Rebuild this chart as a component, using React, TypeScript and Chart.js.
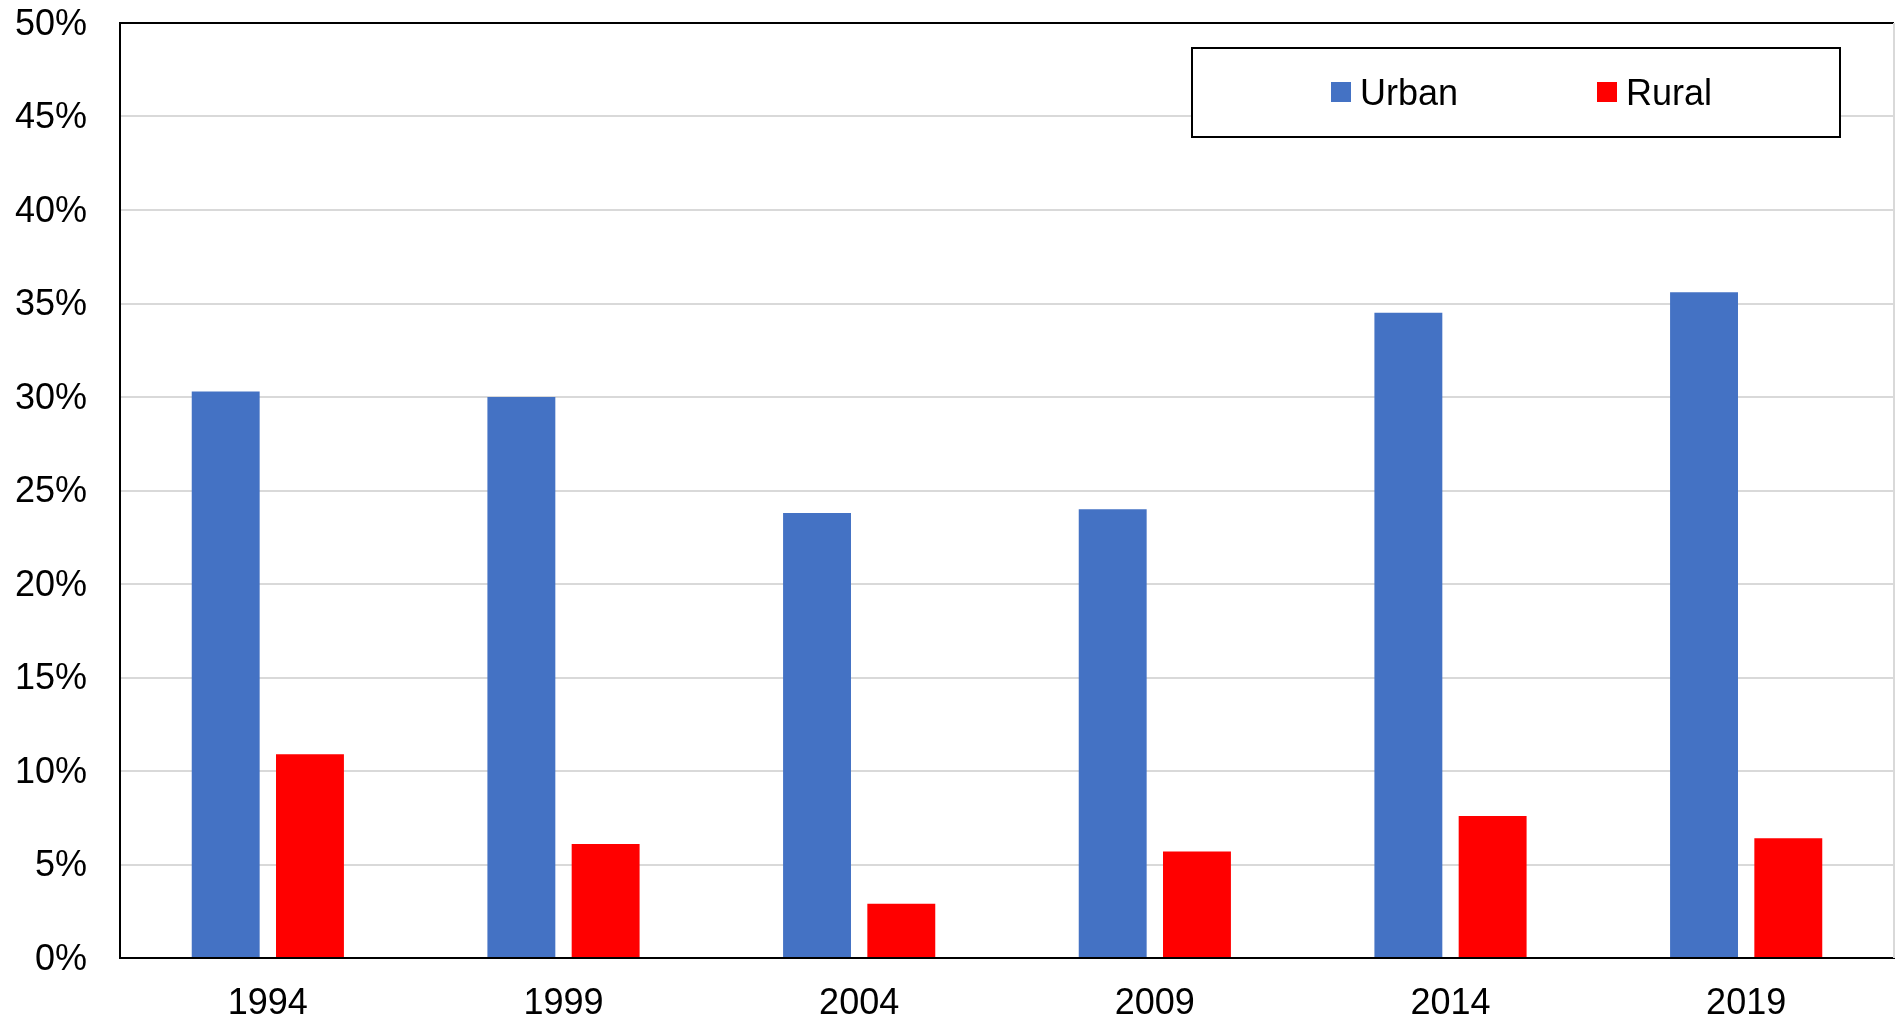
import React, { useEffect, useRef } from "react";
import { Chart, registerables } from "chart.js";

Chart.register(...registerables);

const years = ["1994", "1999", "2004", "2009", "2014", "2019"];
const urban = [30.3, 30.0, 23.8, 24.0, 34.5, 35.6];
const rural = [10.9, 6.1, 2.9, 5.7, 7.6, 6.4];
const seriesLabels = ["Urban", "Rural"];
const seriesColors = ["#4472C4", "#FF0000"];
const yMin = 0;
const yMax = 50;
const yStep = 5;

const FONT = '"Liberation Sans", Arial, sans-serif';

const boxLegend = {
  id: "boxLegend",
  afterDraw(chart: any) {
    const ctx = chart.ctx;
    const area = chart.chartArea;
    ctx.save();
    // faint right border of plot
    ctx.strokeStyle = "#d9d9d9";
    ctx.lineWidth = 2;
    ctx.beginPath();
    ctx.moveTo(area.right, area.top);
    ctx.lineTo(area.right, area.bottom);
    ctx.stroke();

    // legend box
    const bx = 1192, by = 48, bw = 648, bh = 89;
    ctx.fillStyle = "#ffffff";
    ctx.fillRect(bx, by, bw, bh);
    ctx.strokeStyle = "#000000";
    ctx.lineWidth = 2;
    ctx.strokeRect(bx, by, bw, bh);

    const items = chart.data.datasets.map((d: any) => ({ label: d.label, color: d.backgroundColor }));
    const sx = [1331, 1597];
    ctx.font = `36px ${FONT}`;
    ctx.textBaseline = "alphabetic";
    ctx.textAlign = "left";
    items.forEach((it: any, i: number) => {
      ctx.fillStyle = it.color;
      ctx.fillRect(sx[i], 82, 20, 20);
      ctx.fillStyle = "#000000";
      ctx.fillText(it.label, sx[i] + 29, 105);
    });
    ctx.restore();
  },
};

export default function App() {
  const ref = useRef<HTMLCanvasElement | null>(null);

  useEffect(() => {
    if (!ref.current) return;
    const chart = new Chart(ref.current, {
      type: "bar",
      data: {
        labels: years,
        datasets: [
          { label: seriesLabels[0], data: urban, backgroundColor: seriesColors[0], borderWidth: 0 },
          { label: seriesLabels[1], data: rural, backgroundColor: seriesColors[1], borderWidth: 0 },
        ],
      },
      options: {
        animation: false,
        responsive: true,
        maintainAspectRatio: false,
        devicePixelRatio: 1,
        datasets: {
          bar: { categoryPercentage: 0.57, barPercentage: 0.806 },
        },
        layout: { padding: { top: 23, right: 1, left: 0, bottom: 0 } },
        plugins: {
          legend: { display: false },
          tooltip: { enabled: false },
          title: { display: false },
        },
        scales: {
          x: {
            grid: { display: false, drawTicks: false },
            border: { display: true, color: "#000000", width: 2 },
            ticks: {
              color: "#000000",
              font: { family: FONT, size: 36 },
              padding: 24,
              maxRotation: 0,
            },
            afterFit: (axis: any) => {
              axis.height = 63;
              axis.paddingLeft = 0;
              axis.paddingRight = 0;
            },
          },
          y: {
            min: yMin,
            max: yMax,
            grid: {
              drawTicks: false,
              lineWidth: 2,
              color: (c: any) => (c.tick && c.tick.value === yMax ? "#000000" : "#d9d9d9"),
            },
            border: { display: true, color: "#000000", width: 2 },
            ticks: {
              stepSize: yStep,
              color: "#000000",
              font: { family: FONT, size: 36 },
              padding: 33,
              labelOffset: 2,
              callback: (v: any) => `${v}%`,
            },
            afterFit: (axis: any) => {
              axis.width = 120;
              axis.paddingTop = 0;
              axis.paddingBottom = 0;
            },
          },
        },
      },
      plugins: [boxLegend],
    });
    return () => chart.destroy();
  }, []);

  return (
    <div
      style={{
        position: "fixed",
        left: 0,
        top: 0,
        width: 1895,
        height: 1021,
        background: "#ffffff",
      }}
    >
      <canvas ref={ref} />
    </div>
  );
}
